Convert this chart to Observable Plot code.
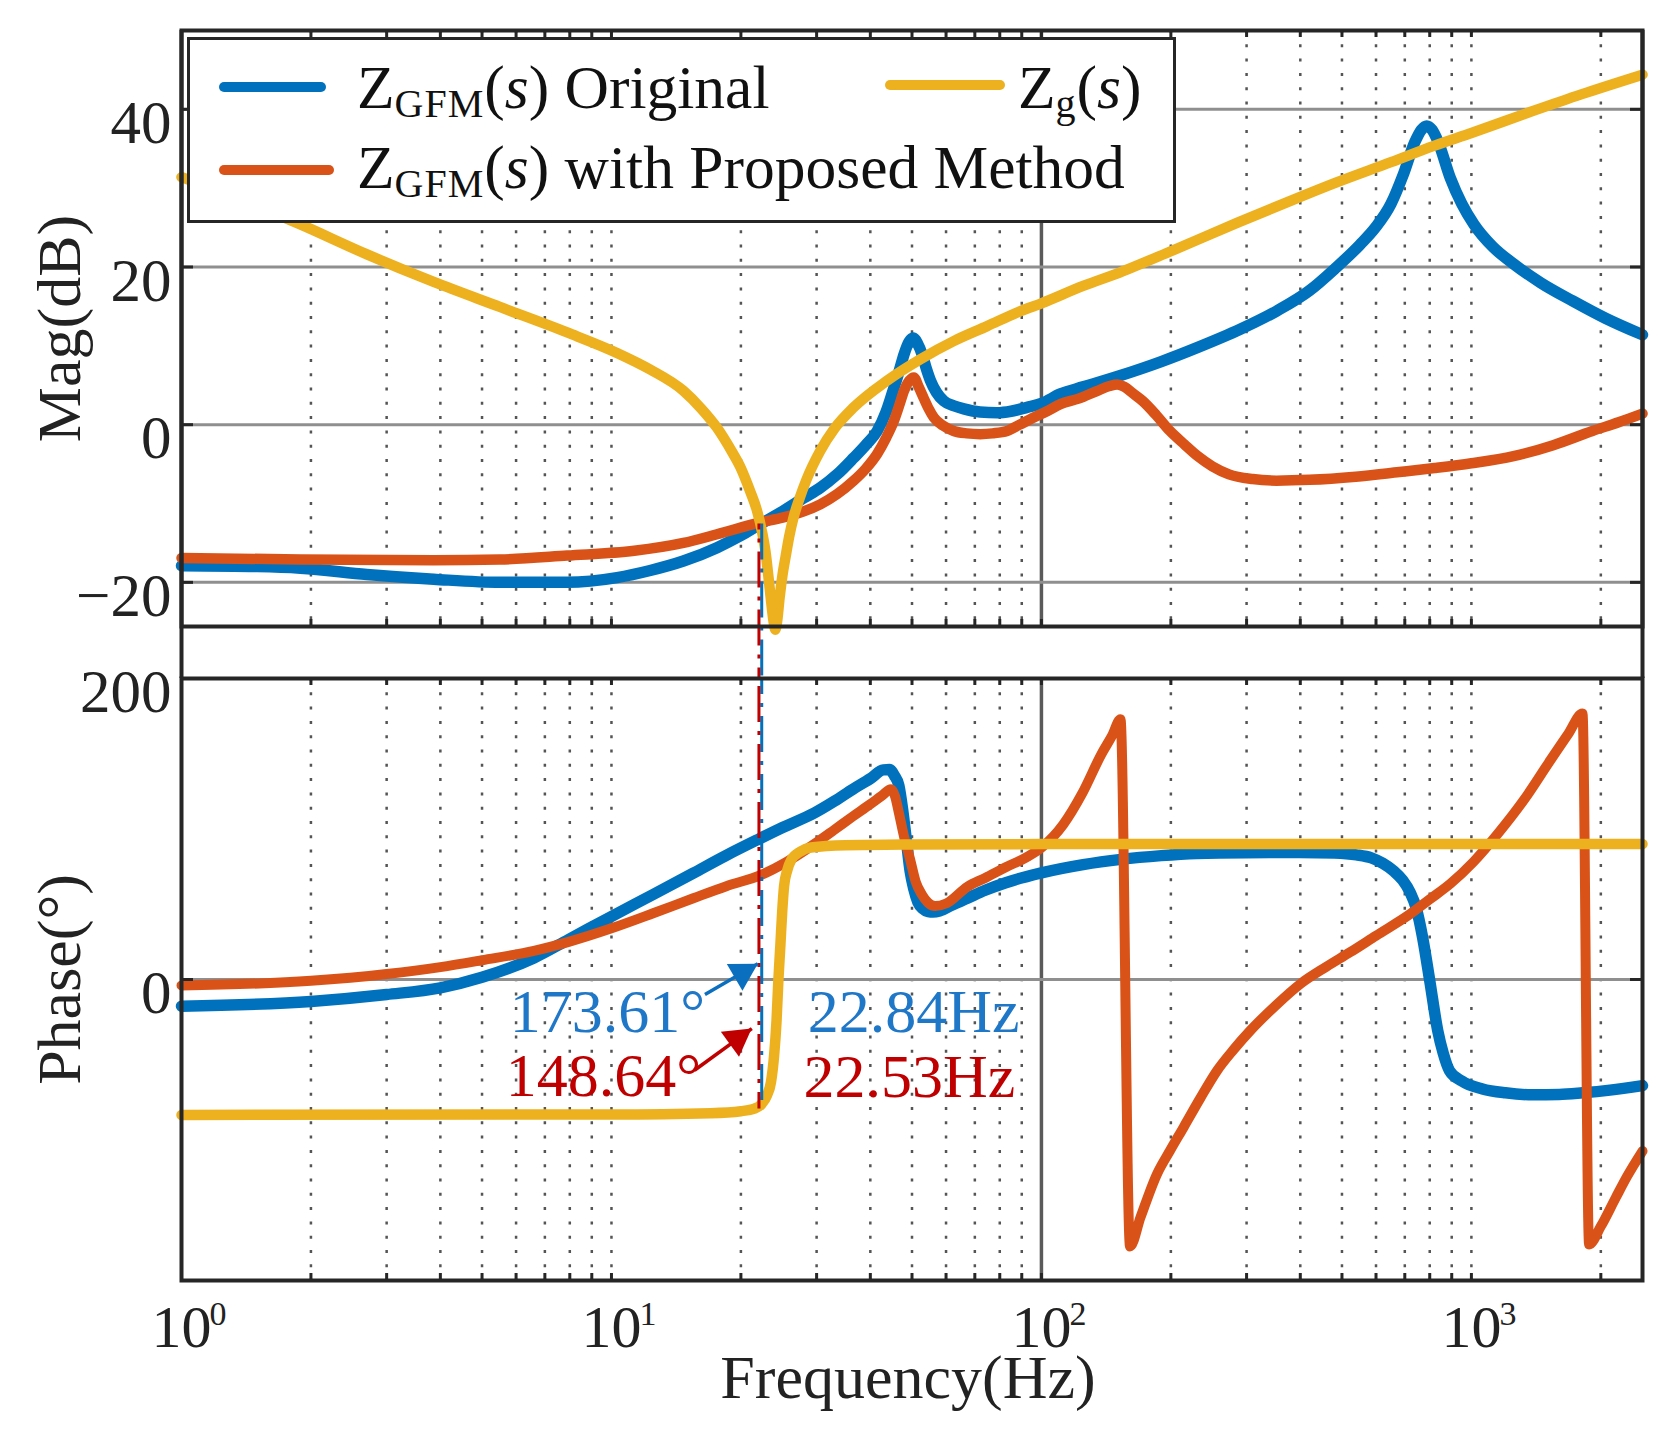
<!DOCTYPE html>
<html><head><meta charset="utf-8">
<script src="https://cdn.jsdelivr.net/npm/d3@7"></script>
<script src="https://cdn.jsdelivr.net/npm/@observablehq/plot@0.6"></script>
<style>
html,body{margin:0;padding:0;background:#fff;}
#wrap{position:relative;width:1674px;height:1438px;overflow:hidden;background:#fff;font-family:"Liberation Serif","Times New Roman",serif;}
#wrap svg{position:absolute;left:0;overflow:visible;}
.legend{position:absolute;left:187px;top:37px;width:989px;height:186px;box-sizing:border-box;border:3.5px solid #262626;background:#fff;}
.sw{position:absolute;height:10px;border-radius:5px;}
.lt{position:absolute;font-size:61.5px;line-height:61.5px;white-space:nowrap;color:#111;}
.sub{font-size:40px;position:relative;top:9px;letter-spacing:1px;}
</style></head><body><div id="wrap"></div><script>
// ---------- ticks / labels ----------
const magTicks = [-20, 0, 20, 40];
const magTickLabels = ["\u221220", "0", "20", "40"];
const phaseTicks = [0, 200];
const phaseTickLabels = ["0", "200"];
const decades = [1, 10, 100, 1000];
const decadeExp = ["0", "1", "2", "3"];
const minorGrid = [2,3,4,5,6,7,8,9,10,20,30,40,50,60,70,80,90,200,300,400,500,600,700,800,900,1000,2000];
const majorGrid = [100];
const tickMarks = [2,3,4,5,6,7,8,9,10,20,30,40,50,60,70,80,90,100,200,300,400,500,600,700,800,900,1000,2000];

// ---------- magnitude (dB) ----------
const blueMagF = [1,1.5,1.89,2.7,3.86,5.52,7.89,10.3,12.3,14.7,17.6,19.95,22.2,25,28,30.6,33.5,36.6,39,41.5,43.5,45.4,46.8,47.9,49.2,50.3,51.5,52.8,54,55.2,57,59.3,62.5,66,72,78.9,85,92.6,100,110.7,125,152,190,231,290,352,420,484,550,598,650,693,738,765,787,810,838,893,950,1014,1120,1253,1450,1720,2050,2500];
const blueMagDb = [-17.9,-18.0,-18.2,-19.0,-19.6,-20.0,-20.0,-19.4,-18.5,-17.3,-15.6,-14.1,-12.6,-11.0,-9.3,-8.0,-6.3,-4.2,-2.6,-0.8,1.6,4.7,7.0,8.9,10.5,11.0,10.3,8.9,7.1,5.6,4.1,3.0,2.4,2.0,1.6,1.5,1.7,2.2,2.7,3.9,4.8,6.2,8.0,9.8,12.1,14.4,17.0,19.9,22.8,25.0,28.0,31.6,35.8,37.4,37.9,37.4,35.8,31.3,28.0,25.4,22.6,20.4,18.0,15.7,13.5,11.4];

const orangeMagF = [1,1.89,3.86,5.5,7.89,11.3,14.7,17.6,22.2,25,28,30.6,33.5,36.6,39,41.5,43.5,45.4,46.8,47.9,49.3,50.5,51.8,53.2,54.7,56.2,59,62.5,67,72.1,77,83.2,89,96,103,110.7,122,135,144,150,156,163,172,185,199,215,231,250,273,310,352,420,538,680,821,1000,1253,1550,1912,2200,2500];
const orangeMagDb = [-16.9,-17.1,-17.2,-17.1,-16.6,-16.0,-15.0,-13.9,-12.4,-11.8,-11.0,-10.1,-8.8,-7.1,-5.6,-3.7,-1.7,0.5,2.6,4.3,5.6,6.0,4.8,3.4,2.0,0.9,-0.1,-0.8,-1.1,-1.2,-1.1,-0.8,0.0,0.9,1.7,2.6,3.3,4.3,4.9,5.1,4.8,4.0,3.0,1.2,-0.8,-2.5,-4.0,-5.3,-6.3,-6.9,-7.1,-7.0,-6.6,-6.0,-5.5,-4.9,-4.0,-2.6,-0.8,0.3,1.4];

const yellowMagF = [1,1.4,1.89,2.7,3.86,5.52,7.89,10.3,12.3,14.7,16.2,17.6,19.0,19.95,21.0,21.8,22.4,22.8,23.2,23.5,23.8,24.05,24.3,24.6,25.0,25.4,25.9,26.5,27.4,28.4,30.6,33,36.6,43.8,52.3,62.5,74.8,89.4,100,125,152,200,285,400,484,650,821,1000,1392,1800,2500];
const yellowMagDb = [31.4,28.4,25.4,21.6,18.1,14.9,11.7,9.1,7.0,4.3,2.0,-0.4,-3.3,-5.4,-8.4,-10.9,-13.6,-16.0,-19.5,-22.3,-24.8,-26.0,-24.8,-22.0,-19.0,-16.8,-14.2,-11.8,-9.3,-7.0,-3.3,-0.5,2.2,5.6,8.3,10.6,12.5,14.4,15.4,17.6,19.3,22.0,25.6,28.9,30.7,33.3,35.4,37.0,39.8,41.9,44.4];

// ---------- phase (deg) ----------
const bluePhF = [1,2,3,4,5,6.6,7.95,10,12.5,15.5,18.5,21.9,25,29.7,33,36.4,40,42.9,44.3,45.5,46.6,47.6,48.5,49.5,50.5,51.6,53,54.5,56,58,62,67.3,74,82.6,100,125,153,190,230,300,398,480,540,585,622,660,692,720,745,770,800,835,860,889,950,1061,1200,1387,1600,1813,2100,2500];
const bluePhDeg = [-17.7,-14.6,-10.0,-5.5,1.5,14.3,26.6,41.9,56.5,70.7,82.5,93.0,101,110.8,118.5,126.4,133.5,139.3,139.5,135.5,128.9,112,92.8,72,60,51.4,47,45.2,44.9,45.6,49.5,54,59.3,64.3,70.8,76.3,79.8,82.3,83.7,84.3,84.4,84.0,82.8,80.8,77.2,72,66,58,47,28,-0.7,-33.9,-49,-60.5,-67.5,-72.7,-75.3,-76.6,-76.4,-75.3,-73.5,-70.5];

const orangePhF = [1,2,3,4,5,6.6,7.95,10,12.5,15.5,18.5,22.3,25.5,29.7,33,36.4,40,42.5,44.7,45.7,46.6,48,49.5,51,52.7,54.5,56.6,60,67.3,74,82.6,92,100,112.4,124.5,137.8,146,152.7,160.7,170,185.8,199,214.2,234,256.2,280,306.2,350,400.3,460,523,600,721,800,893,1010,1160,1330,1516,1680,1813,1878,2000,2166,2300,2500];
const orangePhDeg = [-4.0,-0.9,3.6,8.2,12.8,19.0,25.0,34.0,44.0,54.0,62.0,69.5,78.0,90.2,99.5,108.3,116.5,122,126.4,121.5,110.8,94,79.8,65,56.5,51,48.8,50.5,61.7,67.5,74.6,81,87.6,103.0,123.8,149.6,162,172.9,-177.4,-158,-129.1,-113.8,-98.1,-79,-60.5,-46.5,-33.9,-17.5,-2.9,8.5,18.2,29.1,43.6,53.3,63.6,78,97.9,120,144.4,163.2,176.7,-176.0,-164,-145,-131,-114];

const yellowPhF = [1,10,17,20,21.5,22.3,23.0,23.5,23.9,24.2,24.45,24.7,24.95,25.2,25.6,26.2,27.5,29.1,35,50,100,2500];
const yellowPhDeg = [-90,-89.7,-88.8,-87.5,-85.8,-83,-77,-68,-50,-28,0,22,45,62,72,79.5,85,87.7,89.2,89.7,90,90];

// ---------- annotations ----------
const markerBlueF = 22.36, markerRedF = 22.03;
const markerMagTop = -12.6, markerPhBottom = -86;
const annoTexts = [
  {f: 16.5, p: -22, t: "173.61\u00b0", c: "#1f77c8", a: "end"},
  {f: 16.15, p: -64, t: "148.64\u00b0", c: "#c00000", a: "end"},
  {f: 28.6, p: -21.5, t: "22.84Hz", c: "#1f77c8", a: "start"},
  {f: 27.96, p: -65, t: "22.53Hz", c: "#c00000", a: "start"}
];
const blueArrow = [{f1: 16.5, p1: -10, f2: 21.9, p2: 10.5}];
const redArrow = [{f1: 15.6, p1: -60.3, f2: 21.2, p2: -32.6}];

// ---------- build ----------
const BLUE = "#0072BD", ORANGE = "#D95319", YELLOW = "#EDB120";
const zip = (F, V) => F.map((f, i) => ({f, v: V[i]}));
const blueMag = zip(blueMagF, blueMagDb), orangeMag = zip(orangeMagF, orangeMagDb), yellowMag = zip(yellowMagF, yellowMagDb);
const bluePh = zip(bluePhF, bluePhDeg), orangePh = zip(orangePhF, orangePhDeg), yellowPh = zip(yellowPhF, yellowPhDeg);

const W = 1674, ML = 181, MR = 32;
const FONT = "Liberation Serif";
const AX = "#262626", GRID = "#8f8f8f", DOT = "#555";
const magFrameH = 596, phFrameH = 602, frameW = W - ML - MR;
const dash = "36 9 4 9";

function gridMarks(yTicks) {
  return [
    Plot.ruleX(minorGrid, {stroke: DOT, strokeWidth: 2.5, strokeDasharray: "3 11.3"}),
    Plot.ruleX(majorGrid, {stroke: "#5a5a5a", strokeWidth: 3.5}),
    Plot.ruleY(yTicks, {stroke: GRID, strokeWidth: 3}),
  ];
}
function frameMarks(frameH, yTicks, yLabels) {
  return [
    Plot.frame({stroke: AX, strokeWidth: 4}),
    Plot.ruleX(tickMarks, {insetBottom: frameH - 7, stroke: AX, strokeWidth: 3}),
    Plot.ruleX(tickMarks, {insetTop: frameH - 7, stroke: AX, strokeWidth: 3}),
    Plot.ruleY(yTicks, {insetRight: frameW - 12, stroke: AX, strokeWidth: 3}),
    Plot.ruleY(yTicks, {insetLeft: frameW - 12, stroke: AX, strokeWidth: 3}),
    Plot.text(yTicks, {y: d => d, text: (d, i) => yLabels[i], frameAnchor: "left", textAnchor: "end", lineAnchor: "middle", dx: -10, dy: 14, fontSize: 61, fill: "#222", fontFamily: FONT})
  ];
}

const magPlot = Plot.plot({
  width: W, height: 680, marginTop: 30, marginBottom: 54, marginLeft: ML, marginRight: MR,
  x: {type: "log", domain: [1, 2500], axis: null},
  y: {domain: [-25.6, 50], axis: null},
  style: {background: "transparent", fontFamily: FONT, overflow: "visible"},
  marks: [
    ...gridMarks(magTicks),
    Plot.line(blueMag, {x: "f", y: "v", stroke: BLUE, strokeWidth: 11.5, curve: "monotone-x"}),
    Plot.line(orangeMag, {x: "f", y: "v", stroke: ORANGE, strokeWidth: 10.5, curve: "monotone-x"}),
    Plot.line(yellowMag, {x: "f", y: "v", stroke: YELLOW, strokeWidth: 10.5, curve: "monotone-x"}),
    Plot.ruleX([markerBlueF], {x: d => d, y1: markerMagTop, y2: -25.6, insetBottom: -52, stroke: BLUE, strokeWidth: 3, strokeDasharray: dash}),
    Plot.ruleX([markerRedF], {x: d => d, y1: markerMagTop, y2: -25.6, insetBottom: -52, stroke: "#c00000", strokeWidth: 3, strokeDasharray: dash, strokeDashoffset: 30}),
    ...frameMarks(magFrameH, magTicks, magTickLabels),
    Plot.ruleX([1, 2500], {x: d => d, insetBottom: -52, stroke: AX, strokeWidth: 4}),
    Plot.text(["Mag(dB)"], {frameAnchor: "left", textAnchor: "middle", lineAnchor: "middle", rotate: -90, dx: -121, fontSize: 62, fill: "#222", fontFamily: FONT})
  ]
});

const phPlot = Plot.plot({
  width: W, height: 762, marginTop: 2, marginBottom: 158, marginLeft: ML, marginRight: MR,
  x: {type: "log", domain: [1, 2500], axis: null},
  y: {domain: [-200, 200], axis: null},
  style: {background: "transparent", fontFamily: FONT, overflow: "visible"},
  marks: [
    ...gridMarks([0]),
    Plot.line(bluePh, {x: "f", y: "v", stroke: BLUE, strokeWidth: 11.5, curve: "monotone-x"}),
    Plot.line(orangePh, {x: "f", y: "v", stroke: ORANGE, strokeWidth: 10, curve: "monotone-x"}),
    Plot.line(yellowPh, {x: "f", y: "v", stroke: YELLOW, strokeWidth: 10.5, curve: "monotone-x"}),
    Plot.ruleX([markerBlueF], {x: d => d, y1: 200, y2: markerPhBottom, stroke: BLUE, strokeWidth: 3, strokeDasharray: dash, strokeDashoffset: 20}),
    Plot.ruleX([markerRedF], {x: d => d, y1: 200, y2: markerPhBottom, stroke: "#c00000", strokeWidth: 3, strokeDasharray: dash, strokeDashoffset: 50}),
    Plot.link(blueArrow, {x1: "f1", y1: "p1", x2: "f2", y2: "p2", stroke: "#0b6fc0", strokeWidth: 3.5}),
    Plot.dot(blueArrow, {x: "f2", y: "p2", symbol: "triangle", r: 11.5, fill: "#0b6fc0", rotate: 59.7, dx: -15.5, dy: 9.1}),
    Plot.link(redArrow, {x1: "f1", y1: "p1", x2: "f2", y2: "p2", stroke: "#c00000", strokeWidth: 3.5}),
    Plot.dot(redArrow, {x: "f2", y: "p2", symbol: "triangle", r: 11.5, fill: "#c00000", rotate: 54.1, dx: -14.6, dy: 10.5}),
    Plot.text(annoTexts.filter(d => d.a === "end"), {x: "f", y: "p", text: "t", fill: "c", textAnchor: "end", lineAnchor: "middle", fontSize: 62, fontFamily: FONT}),
    Plot.text(annoTexts.filter(d => d.a === "start"), {x: "f", y: "p", text: "t", fill: "c", textAnchor: "start", lineAnchor: "middle", fontSize: 62, fontFamily: FONT}),
    ...frameMarks(phFrameH, phaseTicks, phaseTickLabels),
    Plot.text(decades, {x: d => d, text: () => "10", frameAnchor: "bottom", textAnchor: "middle", lineAnchor: "middle", dy: 47, fontSize: 60, fill: "#222", fontFamily: FONT}),
    Plot.text(decades, {x: d => d, text: (d, i) => decadeExp[i], frameAnchor: "bottom", textAnchor: "start", lineAnchor: "middle", dx: 28, dy: 34, fontSize: 34, fill: "#222", fontFamily: FONT}),
    Plot.text(["Frequency(Hz)"], {frameAnchor: "bottom", textAnchor: "middle", lineAnchor: "middle", dy: 98, dx: -4, fontSize: 62, fill: "#222", fontFamily: FONT}),
    Plot.text(["Phase(\u00b0)"], {frameAnchor: "left", textAnchor: "middle", lineAnchor: "middle", rotate: -90, dx: -121, fontSize: 62, fill: "#222", fontFamily: FONT})
  ]
});

const wrap = document.getElementById("wrap");
magPlot.style.top = "0px";
phPlot.style.top = "676px";
wrap.appendChild(magPlot);
wrap.appendChild(phPlot);

// legend (HTML overlay)
const leg = document.createElement("div");
leg.innerHTML = `
<div class="legend"></div>
<div class="sw" style="left:219px;top:82px;width:107px;background:${BLUE}"></div>
<div class="sw" style="left:219px;top:165px;width:115px;background:${ORANGE}"></div>
<div class="sw" style="left:885px;top:80px;width:120px;background:${YELLOW}"></div>
<div class="lt" style="left:357px;top:56.5px">Z<span class="sub">GFM</span>(<i>s</i>) Original</div>
<div class="lt" style="left:357px;top:136.5px">Z<span class="sub">GFM</span>(<i>s</i>) with Proposed Method</div>
<div class="lt" style="left:1018px;top:56.5px">Z<span class="sub">g</span>(<i>s</i>)</div>`;
wrap.appendChild(leg);
</script></body></html>
